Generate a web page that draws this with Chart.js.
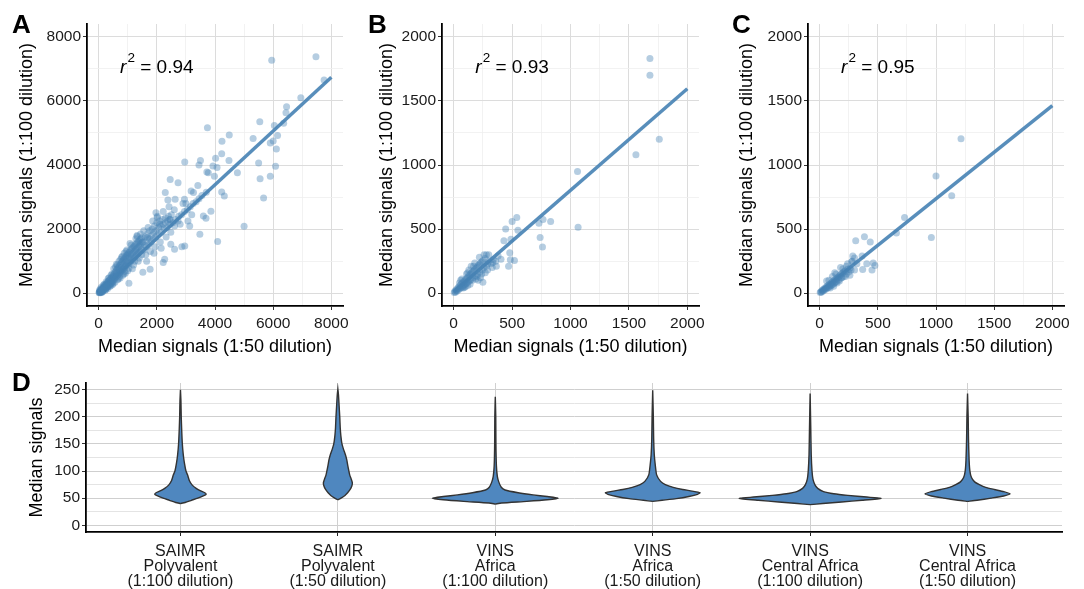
<!DOCTYPE html>
<html>
<head>
<meta charset="utf-8">
<script src="https://cdn.jsdelivr.net/npm/chart.js@4.4.1/dist/chart.umd.min.js"></script>
<style>
body{margin:0;background:#fff;width:1084px;height:589px;position:relative;overflow:hidden;font-family:"Liberation Sans",Arial,sans-serif}
canvas{position:absolute}
.tag{position:absolute;font-weight:bold;font-size:26px;line-height:26px;color:#000}
</style>
</head>
<body>
<canvas id="pA" width="360" height="360" style="left:0;top:0"></canvas>
<canvas id="pB" width="360" height="360" style="left:360px;top:0"></canvas>
<canvas id="pC" width="364" height="360" style="left:720px;top:0"></canvas>
<canvas id="pD" width="1084" height="229" style="left:0;top:360px"></canvas>
<div class="tag" style="left:12px;top:11px">A</div>
<div class="tag" style="left:368px;top:11px">B</div>
<div class="tag" style="left:732px;top:11px">C</div>
<div class="tag" style="left:12px;top:369px">D</div>
<script>
// panel A : 1:50 vs 1:100 (all antigens)
const ptsA = [
  [15,25],[25,10],[30,45],[40,60],[45,20],[55,35],[60,75],[70,50],[80,95],[85,30],[95,70],[100,120],[110,55],[115,100],[125,140],[130,80],[140,115],[150,165],[155,95],[165,135],[175,190],[180,110],[190,160],[200,220],[205,130],[215,185],[225,250],[230,150],[240,210],[250,280],[260,170],[270,235],[280,310],[285,190],[295,260],[305,340],[315,215],[325,285],[335,370],[345,240],[355,310],[365,400],[375,265],[385,335],[395,430],[405,290],[415,360],[425,460],[435,315],[445,390],[455,490],[465,340],[475,420],[485,520],[495,365],
  [30,90],[70,15],[100,190],[140,50],[190,280],[240,110],[290,180],[330,460],[380,210],[430,560],[470,260],[60,140],[120,30],[170,250],[220,90],[260,360],[310,150],[360,480],[410,230],[460,600],[500,300],
  [510,560],[525,430],[540,610],[555,470],[570,650],[585,500],[600,700],[615,530],[630,740],[645,560],[660,780],[675,590],[690,820],[705,620],[720,860],[735,650],[750,900],[765,680],[780,940],[795,710],[810,980],[825,740],[840,1020],[855,770],[870,1060],[885,800],[900,1100],[915,830],[930,1130],[945,860],[960,1170],[975,890],[990,1200],
  [520,760],[560,340],[610,900],[650,420],[700,1000],[740,470],[790,1120],[830,560],[880,1250],[920,620],[970,1350],[1000,700],[580,820],[680,450],[760,1060],[860,600],[940,1300],[640,880],[720,520],[820,1150],[900,680],[980,1000],[540,520],[620,640],[700,720],[780,800],[860,900],[940,980],
  [1010,1230],[1030,920],[1050,1280],[1070,960],[1090,1330],[1110,1000],[1130,1380],[1150,1040],[1170,1420],[1190,1080],[1210,1460],[1230,1120],[1250,1500],[1270,1160],[1290,1540],[1310,1200],[1330,1580],[1350,1240],[1370,1620],[1390,1280],[1410,1660],[1430,1320],[1450,1700],[1470,1360],[1490,1740],
  [1020,1100],[1060,1120],[1100,1180],[1140,1220],[1180,1260],[1220,1300],[1260,1340],[1300,1380],[1340,1420],[1380,1460],[1420,1500],[1460,1540],[1500,1580],
  [1040,780],[1120,1500],[1200,880],[1280,1700],[1360,1000],[1440,1850],[1080,1550],[1240,1000],[1400,1100],[1160,760],[1320,1800],[1480,1200],
  [1520,1600],[1560,1350],[1600,1750],[1640,1450],[1680,1850],[1720,1500],[1760,1950],[1800,1600],[1840,2000],[1880,1700],[1920,2100],[1960,1750],[2000,2200],[2050,1850],[2100,2250],[2150,1900],[2200,2300],[2250,2000],[2300,2350],[2350,2050],[2400,2400],[2450,2150],[2500,2450],
  [1550,1950],[1620,1200],[1700,2050],[1780,1300],[1860,2250],[1940,1450],[2020,2400],[2120,1600],[2220,2550],[2320,1750],[2420,2700],[2480,1900],
  [1580,1500],[1660,1650],[1740,1700],[1820,1800],[1900,1900],[1980,1950],[2060,2050],[2140,2100],[2220,2150],[2300,2200],[2380,2250],[2460,2300],[1650,1000],[1900,1250],[2150,1400],
  [1770,750],[1520,650],[1320,1770],[1680,1740],[1040,310],[2220,960],[2960,1470],
  [2550,2200],[2650,2300],[2750,2400],[2850,2450],[2950,2550],[3050,2600],[3150,2700],[3250,2800],[3350,2850],[3450,2950],[3550,3050],[3700,3150],[2600,2600],[2800,2150],[3000,2800],[3200,2450],
  [5950,7270],[7470,7380],[7750,6650],[6950,6100],[6460,5820],[6440,5630],[6360,5300],[6040,5230],[6150,4920],[5540,5350],[5310,4830],[5900,4690],[6000,4750],[6110,4500],
  [3740,5160],[4490,4940],[4240,4740],[4230,4350],[4020,4210],[4480,4140],[2960,4090],[3500,4140],[3450,4000],[3930,3970],[4070,3920],[5500,4060],[6080,3960],
  [4770,3760],[5900,3650],[5550,3570],[5670,2970],[5000,2090],[4090,1610],[3770,3760],[3720,3780],[3980,3650],[2460,3550],[2730,3450],[3180,3190],[3260,3140],
  [2290,3140],[2380,2910],[2630,2930],[2950,2930],[2900,2800],[3410,3360],[4230,3160],[4320,3030],[3860,2560],[3600,2410],[3690,2340],
  [1970,2510],[2010,2360],[2100,2150],[2440,2300],[2730,2250],[2610,2100],[3070,2250],[3130,2100],[3480,1840],[2860,1450],[2610,1370],[2480,1530],[2270,1060]
];
const fitA = [[0,30],[8000,6740]];
const ticksA = [0,2000,4000,6000,8000];

// panel B
const ptsB = [
  [5,5],[10,15],[15,8],[20,25],[25,15],[30,35],[35,22],[40,45],[45,30],[50,55],[55,38],[60,65],[65,45],[70,75],[75,52],[80,85],[85,60],[90,95],[95,68],[100,105],[105,75],[110,115],[115,82],[120,125],[125,90],[130,135],[135,98],[140,145],[145,105],[150,155],[160,165],[165,120],[170,175],[180,185],[185,135],[190,195],[200,205],[205,150],[210,215],[220,225],[225,165],[230,235],[240,245],[245,180],[250,255],[260,200],[270,270],[280,210],[290,230],[300,250],[320,230],[340,260],[360,250],[380,290],
  [60,100],[90,45],[120,60],[130,180],[160,100],[180,235],[200,130],[220,280],[240,150],[260,300],[290,180],[300,300],[330,200],[150,210],[110,150],[70,110],[210,100],[230,120],[270,160],[100,50],[140,70],[170,210],[190,110],[120,160],[80,40],[50,80],
  [1680,1830],[1680,1700],[1760,1200],[1560,1080],[1060,950],[1065,515],[830,560],[765,575],[730,545],[740,435],[760,360],
  [540,590],[500,560],[445,500],[550,490],[430,410],[490,420],[480,315],[485,260],[520,255],[470,210],[280,300],[405,265],[365,210],[335,240],[250,85]
];
const fitB = [[0,10],[2000,1595]];
const ticksB = [0,500,1000,1500,2000];

// panel C
const ptsC = [
  [5,5],[10,12],[15,8],[20,20],[25,15],[30,28],[35,20],[40,35],[45,28],[50,42],[55,33],[60,50],[65,40],[70,58],[75,45],[80,65],[85,52],[90,72],[95,58],[100,80],[105,65],[110,88],[115,70],[120,95],[125,78],[130,102],[135,85],[140,110],[145,92],[150,118],[160,125],[165,105],[170,135],[180,145],[185,118],[190,152],[200,160],[205,130],[210,168],[220,175],[230,150],[240,185],[250,165],[260,195],[270,180],
  [60,95],[90,40],[120,55],[140,150],[170,95],[200,190],[220,130],[240,230],[260,140],[110,130],[80,100],[150,80],[180,200],[130,160],[190,120],[230,210],[300,180],[320,230],[280,250],
  [1215,1205],[1000,915],[1135,760],[730,590],[960,435],[660,470],[310,410],[385,440],[435,400],[285,290],[365,290],[405,230],[460,235],[475,215],[450,180],[370,185],[275,245],[300,275]
];
const fitC = [[0,10],[2000,1463]];
const ticksC = [0,500,1000,1500,2000];

const r2Values = ['0.94', '0.93', '0.95'];

// panel D : violins, each row is [median signal, half width in category units]
const violinCats = [
  ['SAIMR','Polyvalent','(1:100 dilution)'],
  ['SAIMR','Polyvalent','(1:50 dilution)'],
  ['VINS','Africa','(1:100 dilution)'],
  ['VINS','Africa','(1:50 dilution)'],
  ['VINS','Central Africa','(1:100 dilution)'],
  ['VINS','Central Africa','(1:50 dilution)']
];
const saimr100 = [[40,0],[42,0.03],[46,0.07],[50,0.11],[54,0.145],[57,0.163],[60,0.155],[64,0.125],[68,0.1],[74,0.075],[82,0.057],[93,0.045],[100,0.035],[115,0.025],[130,0.018],[150,0.012],[175,0.008],[200,0.005],[230,0.003],[250,0]];
const saimr50 = [[47,0],[50,0.02],[55,0.045],[60,0.062],[66,0.078],[72,0.088],[78,0.092],[85,0.085],[92,0.076],[100,0.07],[110,0.063],[120,0.057],[130,0.048],[140,0.036],[150,0.026],[165,0.019],[180,0.015],[200,0.012],[220,0.008],[240,0.004],[251,0]];
const vinsAf100 = [[39,0],[41,0.04],[44,0.2],[47,0.33],[50,0.4],[53,0.33],[56,0.24],[60,0.145],[65,0.062],[70,0.038],[80,0.022],[90,0.013],[110,0.007],[150,0.004],[200,0.003],[237,0]];
const vinsAf50 = [[44,0],[46,0.06],[49,0.15],[53,0.23],[57,0.285],[60,0.3],[63,0.25],[66,0.19],[70,0.13],[75,0.08],[81,0.05],[93,0.025],[112,0.016],[130,0.01],[160,0.006],[200,0.004],[249,0]];
const vinsCA100 = [[38,0],[40,0.08],[43,0.2],[46,0.33],[49.5,0.45],[52,0.36],[55,0.24],[58,0.15],[62,0.085],[68,0.048],[75,0.03],[85,0.018],[100,0.012],[130,0.007],[180,0.004],[243,0]];
const vinsCA50 = [[44,0],[46,0.06],[50,0.15],[54,0.23],[58,0.27],[62,0.23],[66,0.17],[70,0.115],[75,0.075],[80,0.045],[88,0.025],[100,0.015],[120,0.01],[160,0.006],[200,0.004],[243,0]];
const ticksD = [0,50,100,150,200,250];

Chart.defaults.font.family = '"Liberation Sans", Arial, Helvetica, sans-serif';
Chart.defaults.color = '#1a1a1a';

const MAJOR = '#dcdcdc', MINOR = '#efefef';
const TICK_SIZE = 15.5;
const TITLE_SIZE = 18;

function withMinor(ticks) {
  const out = [];
  for (let i = 0; i < ticks.length; i++) {
    out.push(ticks[i]);
    if (i < ticks.length - 1) out.push((ticks[i] + ticks[i + 1]) / 2);
  }
  return out;
}

function r2Plugin(txt, ax, ay) {
  return {
    id: 'r2',
    afterDatasetsDraw(chart) {
      const c = chart.ctx;
      const px = chart.scales.x.getPixelForValue(ax);
      const py = chart.scales.y.getPixelForValue(ay) + 4;
      const fam = '"Liberation Sans", Arial, sans-serif';
      c.save();
      c.fillStyle = '#000';
      c.textAlign = 'left';
      c.textBaseline = 'alphabetic';
      c.font = 'italic 19px ' + fam;
      const wr = c.measureText('r').width;
      c.font = '13.5px ' + fam;
      const w2 = c.measureText('2').width;
      c.font = '19px ' + fam;
      const rest = ' = ' + txt;
      const wRest = c.measureText(rest).width;
      let x0 = px - (wr + 1 + w2 + wRest) / 2;
      c.font = 'italic 19px ' + fam;
      c.fillText('r', x0, py);
      x0 += wr + 1;
      c.font = '13.5px ' + fam;
      c.fillText('2', x0, py - 10.5);
      x0 += w2;
      c.font = '19px ' + fam;
      c.fillText(rest, x0, py);
      c.restore();
    }
  };
}

function scatterAxis(ticks, lim, title, isY, fitSize) {
  const all = withMinor(ticks);
  const major = v => ticks.includes(v);
  return {
    type: 'linear',
    min: lim[0],
    max: lim[1],
    afterBuildTicks: s => { s.ticks = all.map(v => ({value: v})); },
    afterFit: s => { if (isY) s.width = fitSize; else s.height = fitSize; },
    ticks: {
      autoSkip: false,
      maxRotation: 0,
      padding: isY ? 2 : 4,
      font: {size: TICK_SIZE},
      color: '#1a1a1a',
      callback: v => major(v) ? String(v) : ''
    },
    grid: {
      color: c => major(c.tick.value) ? MAJOR : MINOR,
      lineWidth: c => major(c.tick.value) ? 1 : 0.8,
      tickLength: 4,
      tickColor: c => major(c.tick.value) ? '#333' : 'rgba(0,0,0,0)'
    },
    border: {color: '#000', width: 1.8},
    title: {
      display: true,
      text: title,
      color: '#000',
      font: {size: TITLE_SIZE},
      padding: isY ? {top: 16, bottom: 0} : {top: 0, bottom: 2}
    }
  };
}

function scatterPanel(id, pts, fit, ticks, lim, axLeft, rightPad, r2txt, annX, annY) {
  new Chart(document.getElementById(id), {
    type: 'scatter',
    data: {
      datasets: [
        {
          data: fit.map(([x, y]) => ({x, y})),
          showLine: true,
          borderColor: 'rgba(70,130,180,0.9)',
          borderWidth: 3.5,
          pointRadius: 0,
          fill: false
        },
        {
          data: pts.map(([x, y]) => ({x, y})),
          pointRadius: 3.5,
          backgroundColor: 'rgba(70,130,180,0.4)',
          borderWidth: 0
        }
      ]
    },
    options: {
      responsive: false,
      animation: false,
      devicePixelRatio: 1,
      layout: {padding: {top: 24, right: rightPad, left: 0, bottom: 0}},
      plugins: {legend: {display: false}, tooltip: {enabled: false}},
      scales: {
        x: scatterAxis(ticks, lim, 'Median signals (1:50 dilution)', false, 54),
        y: scatterAxis(ticks, lim, 'Median signals (1:100 dilution)', true, axLeft)
      }
    },
    plugins: [r2Plugin(r2txt, annX, annY)]
  });
}

scatterPanel('pA', ptsA, fitA, ticksA, [-400, 8400], 87, 17, r2Values[0], 2000, 7000);
scatterPanel('pB', ptsB, fitB, ticksB, [-100, 2100], 82, 21, r2Values[1], 500, 1750);
scatterPanel('pC', ptsC, fitC, ticksC, [-100, 2100], 88, 20, r2Values[2], 500, 1750);

// violin panel
const violins = [saimr100, saimr50, vinsAf100, vinsAf50, vinsCA100, vinsCA50];
const dMinor = withMinor(ticksD);

new Chart(document.getElementById('pD'), {
  type: 'scatter',
  data: {
    datasets: violins.map((prof, i) => {
      const c = i + 1;
      const right = prof.map(([v, w]) => ({x: c + w, y: v}));
      const left = prof.slice().reverse().map(([v, w]) => ({x: c - w, y: v}));
      return {
        data: right.concat(left),
        showLine: true,
        fill: 'shape',
        tension: 0.2,
        backgroundColor: '#4f87bf',
        borderColor: '#333333',
        borderWidth: 1.4,
        pointRadius: 0
      };
    })
  },
  options: {
    responsive: false,
    animation: false,
    devicePixelRatio: 1,
    layout: {padding: {top: 23, right: 22, left: 0, bottom: 0}},
    plugins: {legend: {display: false}, tooltip: {enabled: false}},
    scales: {
      x: {
        type: 'linear',
        min: 0.4,
        max: 6.6,
        afterBuildTicks: s => { s.ticks = violinCats.map((_, i) => ({value: i + 1})); },
        afterFit: s => { s.height = 57; },
        ticks: {
          autoSkip: false,
          maxRotation: 0,
          padding: 8,
          font: {size: 16, lineHeight: 0.94},
          color: '#1a1a1a',
          callback: v => violinCats[v - 1]
        },
        grid: {color: '#d0d0d0', tickLength: 4, tickColor: '#222'},
        border: {color: '#000', width: 1.8}
      },
      y: {
        type: 'linear',
        min: -12.5,
        max: 262.5,
        afterBuildTicks: s => { s.ticks = dMinor.map(v => ({value: v})); },
        afterFit: s => { s.width = 86; },
        ticks: {
          autoSkip: false,
          padding: 2,
          font: {size: TICK_SIZE},
          color: '#1a1a1a',
          callback: v => ticksD.includes(v) ? String(v) : ''
        },
        grid: {
          color: c => ticksD.includes(c.tick.value) ? '#cfcfcf' : '#e4e4e4',
          tickLength: 4,
          tickColor: c => ticksD.includes(c.tick.value) ? '#333' : 'rgba(0,0,0,0)'
        },
        border: {color: '#000', width: 1.8},
        title: {display: true, text: 'Median signals', color: '#000', font: {size: TITLE_SIZE}, padding: {top: 26, bottom: 0}}
      }
    }
  }
});
</script>
</body>
</html>
